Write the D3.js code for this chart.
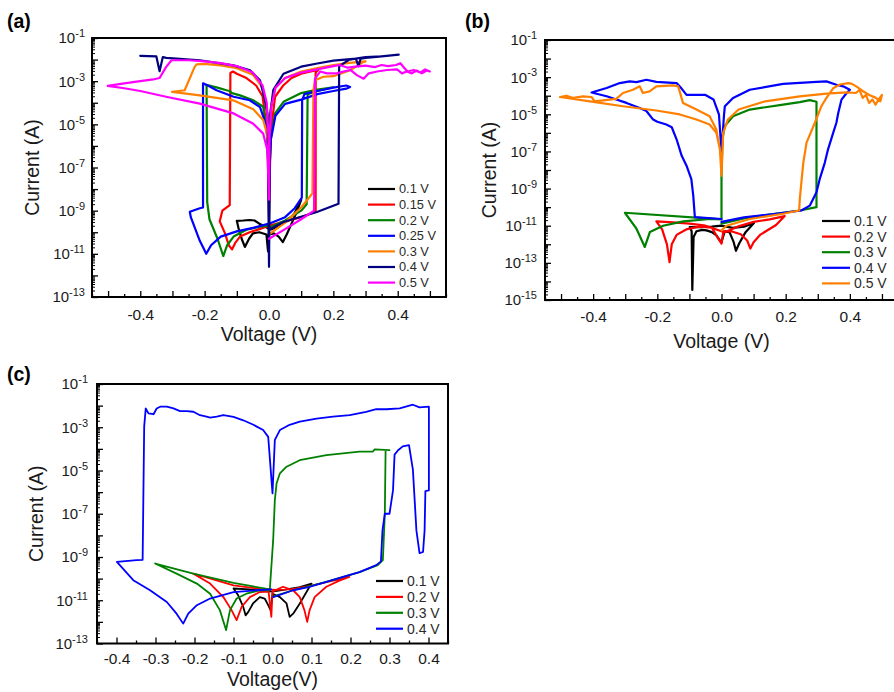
<!DOCTYPE html>
<html>
<head>
<meta charset="utf-8">
<script src="https://cdn.jsdelivr.net/npm/d3@7"></script>
<style>
  html, body { margin: 0; padding: 0; background: #ffffff; }
  svg { display: block; font-family: "Liberation Sans", Arial, Helvetica, sans-serif; }
</style>
</head>
<body>
<svg id="fig" width="894" height="692"></svg>
<script>
// ---------------------------------------------------------------
// I–V sweeps, [voltage (V), current (A)], in sweep order.
// ---------------------------------------------------------------

// Panel (a): sweep amplitudes
const legendA = ["0.1 V", "0.15 V", "0.2 V", "0.25 V", "0.3 V", "0.4 V", "0.5 V"];

const a_0p1V = [[0,7.9e-11],[0.015,8.9e-11],[0.03,6.3e-11],[0.043,3.5e-11],[0.055,7.9e-11],[0.07,2.5e-10],[0.085,7.9e-10],[0.1,3.2e-9],[0.08,7.9e-10],[0.06,3.5e-10],[0.03,2.0e-10],[0.01,1.4e-10],[0,1.3e-10],[-0.003,1.3e-11],[-0.008,7.9e-11],[-0.03,1.0e-10],[-0.05,8.9e-11],[-0.062,5.0e-11],[-0.075,2.1e-11],[-0.085,5.0e-11],[-0.095,1.6e-10],[-0.1,3.4e-10],[-0.08,3.5e-10],[-0.06,3.7e-10],[-0.045,3.5e-10],[-0.03,2.5e-10],[-0.01,1.8e-10],[0,1.4e-10]];

const a_0p15V = [[0,2.0e-10],[0.05,3.2e-10],[0.1,5.0e-10],[0.145,8.9e-10],[0.145,2.5e-3],[0.153,3.3e-3],[0.13,2.8e-3],[0.1,2.2e-3],[0.07,1.4e-3],[0.045,6.5e-4],[0.019,1.9e-4],[0.005,3.7e-6],[0,5.0e-10],[-0.005,3.7e-6],[-0.02,2.0e-4],[-0.04,6.3e-4],[-0.07,1.4e-3],[-0.1,2.2e-3],[-0.112,2.8e-3],[-0.12,2.4e-3],[-0.122,1.8e-9],[-0.145,1.0e-9],[-0.153,3.2e-10],[-0.137,9.1e-11],[-0.125,2.5e-11],[-0.115,1.6e-11],[-0.105,3.2e-11],[-0.09,6.3e-11],[-0.06,1.0e-10],[-0.03,1.4e-10],[0,2.0e-10]];

const a_0p2V = [[0,1.6e-10],[0.05,3.5e-10],[0.1,1.0e-9],[0.117,2.0e-9],[0.12,2.5e-4],[0.15,3.5e-4],[0.2,5.2e-4],[0.15,4.1e-4],[0.1,2.8e-4],[0.045,1.1e-4],[0.019,3.2e-5],[0.005,2.0e-6],[0,6.3e-9],[-0.005,2.5e-6],[-0.018,6.5e-5],[-0.049,1.3e-4],[-0.09,2.2e-4],[-0.115,2.8e-4],[-0.122,3.5e-4],[-0.132,3.8e-4],[-0.16,5.0e-4],[-0.18,6.0e-4],[-0.194,6.5e-4],[-0.192,2.5e-9],[-0.185,4.0e-10],[-0.16,5.0e-11],[-0.142,7.9e-12],[-0.13,2.5e-11],[-0.11,6.3e-11],[-0.07,1.3e-10],[-0.03,1.8e-10],[0,2.0e-10]];

const a_0p25V = [[0,2.5e-10],[0.05,5.0e-10],[0.08,1.3e-9],[0.102,4.0e-9],[0.103,1.3e-4],[0.11,2.5e-4],[0.15,3.5e-4],[0.2,5.0e-4],[0.24,6.3e-4],[0.252,5.4e-4],[0.24,4.5e-4],[0.2,3.5e-4],[0.15,2.5e-4],[0.1,1.4e-4],[0.05,8.9e-5],[0.02,2.5e-5],[0.006,2.0e-6],[0,3.2e-8],[-0.007,7.9e-6],[-0.028,6.3e-5],[-0.06,1.3e-4],[-0.11,1.9e-4],[-0.163,3.8e-4],[-0.19,6.3e-4],[-0.205,7.9e-4],[-0.205,1.4e-9],[-0.215,1.3e-9],[-0.246,8.9e-10],[-0.243,5.0e-10],[-0.215,4.0e-11],[-0.195,1.0e-11],[-0.18,2.5e-11],[-0.15,6.3e-11],[-0.1,1.1e-10],[-0.05,1.6e-10],[0,2.5e-10]];

const a_0p3V = [[0,7.9e-11],[0.05,2.8e-10],[0.1,1.4e-9],[0.135,6.3e-9],[0.138,3.8e-4],[0.143,1.1e-3],[0.169,1.6e-3],[0.2,1.7e-3],[0.252,3.2e-3],[0.294,7.8e-3],[0.3,8.3e-3],[0.25,7.1e-3],[0.2,5.6e-3],[0.15,4.0e-3],[0.1,2.8e-3],[0.05,1.4e-3],[0.02,5.0e-4],[0.006,6.3e-5],[0,3.2e-7],[-0.006,5.0e-5],[-0.02,5.0e-4],[-0.05,2.0e-3],[-0.1,4.0e-3],[-0.15,5.4e-3],[-0.2,6.3e-3],[-0.225,6.0e-3],[-0.231,4.6e-3],[-0.262,3.8e-4],[-0.301,3.2e-4],[-0.215,2.2e-4],[-0.111,1.3e-4],[-0.049,5.0e-5],[-0.018,1.6e-5],[-0.007,4.0e-6],[0,3.2e-7]];

const a_0p4V = [[0,1.3e-10],[0.045,3.0e-10],[0.097,5.1e-10],[0.149,8.7e-10],[0.216,2.1e-9],[0.218,5.0e-3],[0.25,1.0e-2],[0.3,1.3e-2],[0.35,1.4e-2],[0.403,1.7e-2],[0.35,1.4e-2],[0.3,1.2e-2],[0.285,1.1e-2],[0.278,5.0e-3],[0.27,1.1e-2],[0.2,8.9e-3],[0.15,6.6e-3],[0.1,4.7e-3],[0.045,2.2e-3],[0.0135,4.0e-4],[0.004,3.2e-5],[0,2.5e-12],[-0.004,2.5e-5],[-0.0125,1.3e-4],[-0.028,1.1e-3],[-0.059,3.2e-3],[-0.111,5.4e-3],[-0.215,9.3e-3],[-0.319,1.2e-2],[-0.33,1.3e-2],[-0.34,2.9e-3],[-0.35,1.4e-2],[-0.4,1.5e-2]];

const a_0p5V = [[0,5.0e-11],[0.05,1.4e-10],[0.1,4.0e-10],[0.14,1.0e-9],[0.143,1.3e-3],[0.159,2.8e-3],[0.18,2.3e-3],[0.211,2.3e-3],[0.232,2.8e-3],[0.253,3.3e-3],[0.273,1.9e-3],[0.294,1.3e-3],[0.31,2.3e-3],[0.336,2.8e-3],[0.367,3.3e-3],[0.398,3.5e-3],[0.413,2.3e-3],[0.428,2.8e-3],[0.444,2.3e-3],[0.459,3.1e-3],[0.475,2.3e-3],[0.49,3.1e-3],[0.5,2.8e-3],[0.485,3.5e-3],[0.47,2.5e-3],[0.45,3.3e-3],[0.43,2.8e-3],[0.408,6.8e-3],[0.395,5.6e-3],[0.37,5.0e-3],[0.35,5.6e-3],[0.33,4.5e-3],[0.3,5.2e-3],[0.27,4.7e-3],[0.245,4.2e-3],[0.22,5.6e-3],[0.2,5.0e-3],[0.15,3.5e-3],[0.1,2.5e-3],[0.05,1.4e-3],[0.02,5.0e-4],[0.007,6.3e-5],[0.002,3.2e-6],[0,3.2e-9],[-0.002,3.2e-6],[-0.007,1.0e-4],[-0.02,6.3e-4],[-0.05,2.5e-3],[-0.1,5.0e-3],[-0.15,6.8e-3],[-0.2,8.3e-3],[-0.25,9.3e-3],[-0.303,9.3e-3],[-0.32,4.5e-3],[-0.34,1.4e-3],[-0.36,1.2e-3],[-0.4,1.0e-3],[-0.45,7.9e-4],[-0.501,6.0e-4],[-0.45,4.7e-4],[-0.4,3.5e-4],[-0.32,1.9e-4],[-0.215,9.1e-5],[-0.11,3.2e-5],[-0.05,1.1e-5],[-0.018,3.7e-6],[-0.005,6.3e-7],[0,3.2e-9]];

// Panel (b): sweep amplitudes
const legendB = ["0.1 V", "0.2 V", "0.3 V", "0.4 V", "0.5 V"];

const b_0p1V = [[0,1.0e-11],[-0.03,8.9e-12],[-0.06,8.5e-12],[-0.099,8.5e-12],[-0.093,5.0e-12],[-0.091,3.5e-15],[-0.087,2.5e-12],[-0.078,5.0e-12],[-0.06,6.0e-12],[-0.047,5.6e-12],[-0.03,4.5e-12],[-0.016,3.0e-12],[-0.005,1.6e-12],[0,1.3e-12],[0.01,5.0e-12],[0.025,4.5e-12],[0.038,1.3e-12],[0.045,4.5e-13],[0.055,1.1e-12],[0.075,4.5e-12],[0.101,1.4e-11],[0.07,8.9e-12],[0.035,7.6e-12],[0,1.0e-11]];

const b_0p2V = [[0,5.0e-12],[-0.05,1.0e-11],[-0.1,1.3e-11],[-0.15,1.5e-11],[-0.203,1.7e-11],[-0.185,6.3e-12],[-0.17,1.0e-12],[-0.162,1.1e-13],[-0.155,1.0e-12],[-0.14,3.2e-12],[-0.11,6.3e-12],[-0.07,8.9e-12],[-0.03,7.9e-12],[-0.01,2.0e-12],[0,1.1e-12],[0.005,4.0e-12],[0.05,8.9e-12],[0.1,1.6e-11],[0.15,2.2e-11],[0.197,3.3e-11],[0.17,1.1e-11],[0.12,3.2e-12],[0.1,1.3e-12],[0.09,5.9e-13],[0.08,1.6e-12],[0.06,3.5e-12],[0.03,5.0e-12],[0,5.0e-12]];

const b_0p3V = [[0,2.2e-11],[-0.301,5.0e-11],[-0.265,6.9e-12],[-0.239,7.2e-13],[-0.223,4.6e-12],[-0.182,1.0e-11],[-0.119,1.7e-11],[-0.036,2.3e-11],[0,2.2e-11],[0,5.0e-9],[0.003,4.5e-7],[0.01,2.3e-6],[0.036,7.9e-6],[0.088,1.8e-5],[0.192,3.3e-5],[0.244,4.5e-5],[0.275,5.8e-5],[0.296,4.7e-5],[0.296,1.0e-10],[0.244,6.6e-11],[0.15,4.0e-11],[0.07,2.5e-11],[0,1.3e-11]];

const b_0p4V = [[0,2.3e-11],[-0.083,2.9e-11],[-0.088,4.2e-10],[-0.094,3.2e-9],[-0.109,1.7e-8],[-0.124,5.8e-8],[-0.14,4.5e-7],[-0.155,2.0e-6],[-0.172,2.8e-6],[-0.2,4.0e-6],[-0.213,5.2e-6],[-0.234,1.5e-5],[-0.255,2.2e-5],[-0.296,4.1e-5],[-0.358,9.3e-5],[-0.405,1.5e-4],[-0.358,2.6e-4],[-0.317,4.8e-4],[-0.286,5.9e-4],[-0.265,5.4e-4],[-0.234,7.2e-4],[-0.203,5.6e-4],[-0.14,4.8e-4],[-0.125,2.5e-4],[-0.109,1.1e-4],[-0.05,1.1e-4],[-0.025,6.3e-5],[-0.008,1.0e-5],[0,1.0e-7],[0.008,1.0e-5],[0.0104,2.7e-5],[0.036,7.6e-5],[0.088,2.1e-4],[0.192,4.3e-4],[0.296,5.5e-4],[0.327,5.9e-4],[0.358,3.9e-4],[0.379,3.2e-4],[0.4,2.1e-4],[0.39,1.4e-4],[0.374,6.2e-5],[0.364,1.2e-5],[0.358,3.5e-6],[0.348,1.0e-6],[0.332,1.3e-7],[0.322,2.5e-8],[0.306,3.2e-9],[0.296,6.3e-10],[0.275,1.2e-10],[0.249,6.6e-11],[0.15,4.0e-11],[0.07,2.8e-11],[0,1.6e-11]];

const b_0p5V = [[0,5.0e-9],[-0.005,1.3e-7],[-0.016,1.0e-6],[-0.037,2.8e-6],[-0.078,5.2e-6],[-0.13,9.8e-6],[-0.203,1.6e-5],[-0.307,2.7e-5],[-0.41,5.0e-5],[-0.503,8.5e-5],[-0.483,1.0e-4],[-0.462,7.6e-5],[-0.431,9.3e-5],[-0.405,8.5e-5],[-0.395,5.0e-5],[-0.328,6.8e-5],[-0.307,1.4e-4],[-0.276,2.1e-4],[-0.255,3.2e-4],[-0.245,1.4e-4],[-0.224,1.7e-4],[-0.203,3.2e-4],[-0.151,3.6e-4],[-0.135,3.2e-4],[-0.12,4.1e-5],[-0.078,1.8e-5],[-0.037,7.9e-6],[-0.016,1.5e-6],[-0.005,1.3e-7],[0,5.0e-9],[0.0052,1.0e-6],[0.0197,5.2e-6],[0.0533,1.8e-5],[0.136,5.0e-5],[0.244,9.3e-5],[0.327,1.3e-4],[0.39,1.5e-4],[0.419,1.4e-4],[0.43,2.1e-4],[0.44,7.6e-5],[0.45,1.1e-4],[0.46,4.1e-5],[0.47,6.3e-5],[0.48,3.3e-5],[0.49,6.3e-5],[0.5,1.1e-4],[0.495,5.0e-5],[0.48,7.9e-5],[0.46,1.1e-4],[0.44,1.8e-4],[0.42,3.2e-4],[0.405,4.5e-4],[0.395,4.8e-4],[0.369,4.0e-4],[0.348,2.5e-4],[0.327,7.6e-5],[0.311,2.7e-5],[0.291,3.5e-6],[0.265,3.0e-7],[0.255,2.5e-8],[0.249,2.2e-9],[0.244,2.8e-10],[0.242,6.6e-11],[0.192,4.4e-11],[0.088,2.3e-11],[0.0156,1.0e-11],[0,5.6e-12]];

// Panel (c): sweep amplitudes
const legendC = ["0.1 V", "0.2 V", "0.3 V", "0.4 V"];

const c_0p1V = [[0,2.0e-11],[0.019,1.4e-11],[0.036,7.1e-12],[0.044,1.7e-12],[0.053,2.4e-12],[0.07,7.1e-12],[0.095,4.2e-11],[0.1,5.9e-11],[0.07,4.0e-11],[0.036,3.2e-11],[0,2.5e-11],[-0.03,2.8e-11],[-0.06,3.2e-11],[-0.1,3.5e-11],[-0.088,1.7e-11],[-0.075,4.9e-12],[-0.069,2.0e-12],[-0.062,2.9e-12],[-0.05,7.1e-12],[-0.0325,1.4e-11],[-0.02,1.2e-11],[-0.011,5.9e-12],[-0.005,3.5e-12],[0,2.0e-11]];

const c_0p2V = [[0,2.5e-11],[0.027,4.2e-11],[0.053,2.9e-11],[0.07,1.4e-11],[0.082,3.4e-12],[0.089,1.0e-12],[0.095,3.4e-12],[0.108,1.4e-11],[0.138,4.2e-11],[0.17,7.9e-11],[0.197,1.2e-10],[0.15,7.6e-11],[0.1,4.7e-11],[0.05,3.3e-11],[0.01,3.0e-11],[-0.03,3.3e-11],[-0.1,4.9e-11],[-0.15,8.9e-11],[-0.203,1.7e-10],[-0.16,5.9e-11],[-0.126,1.4e-11],[-0.105,3.5e-12],[-0.092,1.2e-12],[-0.079,5.0e-12],[-0.058,1.4e-11],[-0.0325,2.4e-11],[-0.01,2.5e-11],[-0.003,1.7e-12],[0,2.5e-11]];

const c_0p3V = [[-0.007,3.2e-11],[-0.1,6.3e-11],[-0.203,1.7e-10],[-0.301,5.0e-10],[-0.246,1.7e-10],[-0.194,5.9e-11],[-0.16,2.0e-11],[-0.135,3.5e-12],[-0.119,4.2e-13],[-0.109,3.5e-12],[-0.092,1.2e-11],[-0.067,2.0e-11],[-0.0325,2.9e-11],[-0.007,2.9e-11],[0.0017,6.0e-9],[0.006,4.3e-7],[0.0104,2.5e-6],[0.019,7.4e-6],[0.036,1.5e-5],[0.0697,3.0e-5],[0.138,5.1e-5],[0.223,7.4e-5],[0.257,7.4e-5],[0.262,9.5e-5],[0.3,8.7e-5],[0.29,8.7e-5],[0.288,1.0e-7],[0.283,7.1e-10],[0.27,4.2e-10],[0.223,2.0e-10],[0.138,7.1e-11],[0.053,2.9e-11],[0.0017,1.5e-11]];

const c_0p4V = [[0.002,1.4e-11],[0.053,2.9e-11],[0.095,4.2e-11],[0.138,7.1e-11],[0.181,1.2e-10],[0.223,2.0e-10],[0.266,4.2e-10],[0.278,6.3e-10],[0.282,1.7e-8],[0.288,1.0e-7],[0.3,1.0e-7],[0.309,1.2e-6],[0.313,5.4e-5],[0.322,8.7e-5],[0.334,1.3e-4],[0.35,1.5e-4],[0.36,1.1e-5],[0.369,1.7e-8],[0.377,1.5e-9],[0.386,1.7e-9],[0.39,1.7e-8],[0.392,1.1e-6],[0.401,1.2e-6],[0.401,8.9e-3],[0.377,8.3e-3],[0.36,1.1e-2],[0.326,7.4e-3],[0.292,6.8e-3],[0.266,6.8e-3],[0.24,5.2e-3],[0.198,3.6e-3],[0.155,3.1e-3],[0.113,2.5e-3],[0.07,1.8e-3],[0.044,1.3e-3],[0.019,7.4e-4],[0.006,2.6e-4],[0,8.7e-7],[-0.011,3.6e-4],[-0.024,7.4e-4],[-0.049,1.3e-3],[-0.075,2.1e-3],[-0.1,3.0e-3],[-0.126,3.6e-3],[-0.143,3.1e-3],[-0.16,2.8e-3],[-0.169,3.1e-3],[-0.186,3.6e-3],[-0.203,5.2e-3],[-0.22,5.6e-3],[-0.237,5.6e-3],[-0.254,7.4e-3],[-0.271,8.9e-3],[-0.288,8.9e-3],[-0.297,7.4e-3],[-0.305,4.0e-3],[-0.318,4.4e-3],[-0.325,7.4e-3],[-0.329,1.1e-3],[-0.333,7.4e-10],[-0.348,7.1e-10],[-0.399,5.9e-10],[-0.357,8.5e-11],[-0.314,2.9e-11],[-0.271,8.3e-12],[-0.246,2.4e-12],[-0.229,8.3e-13],[-0.216,2.4e-12],[-0.194,5.9e-12],[-0.16,1.2e-11],[-0.1,2.4e-11],[-0.041,2.9e-11],[-0.003,3.2e-11]];

// Axis tick labels
const xLabelsAB = [-0.4, -0.2, 0.0, 0.2, 0.4];
const xLabelsC = [-0.4, -0.3, -0.2, -0.1, 0.0, 0.1, 0.2, 0.3, 0.4];
const yLabelsAC = [1e-1, 1e-3, 1e-5, 1e-7, 1e-9, 1e-11, 1e-13];
const yLabelsB = [1e-1, 1e-3, 1e-5, 1e-7, 1e-9, 1e-11, 1e-13, 1e-15];

// Line colours for each sweep, in legend order
const coloursA = ["#000000", "#ff0000", "#008000", "#0000ff", "#ff8000", "#000080", "#ff00ff"];
const coloursB = ["#000000", "#ff0000", "#008000", "#0000ff", "#ff8000"];
const coloursC = ["#000000", "#ff0000", "#008000", "#0000ff"];

// ---------------------------------------------------------------
const svg = d3.select("#fig");
const INK = "#1a1a1a";

function drawPanel(cfg) {
  const g = svg.append("g");
  const x = d3.scaleLinear().domain(cfg.xDomain).range([cfg.left, cfg.right]);
  const y = d3.scaleLog().domain(cfg.yDomain).range([cfg.bottom, cfg.top]);

  // sweep curves
  const line = d3.line().x(d => x(d[0])).y(d => y(d[1]));
  g.append("g")
    .selectAll("path")
    .data(cfg.series)
    .join("path")
    .attr("d", line)
    .attr("fill", "none")
    .attr("stroke", (d, i) => cfg.colours[i])
    .attr("stroke-width", cfg.lineWidth)
    .attr("stroke-linejoin", "round")
    .attr("stroke-linecap", "round");

  // bottom axis: major ticks every 0.1 V, minor every 0.05 V, ticks pointing inward
  const lo = Math.ceil(cfg.xDomain[0] * 20 - 1e-9), hi = Math.floor(cfg.xDomain[1] * 20 + 1e-9);
  const steps = d3.range(lo, hi + 1);
  const xMajor = steps.filter(k => k % 2 === 0).map(k => k / 20);
  const xMinor = steps.filter(k => k % 2 !== 0).map(k => k / 20);
  const isLabel = v => cfg.xLabels.some(l => Math.abs(l - v) < 1e-9);

  const xAxis = g.append("g")
    .attr("transform", `translate(0,${cfg.bottom})`)
    .call(d3.axisBottom(x).tickValues(xMajor).tickSize(-6).tickPadding(cfg.xPad)
      .tickFormat(v => isLabel(v) ? (Math.abs(v) < 1e-9 ? "0.0" : v.toFixed(1)) : ""));
  xAxis.select(".domain").remove();
  xAxis.selectAll("line").attr("stroke", "#000").attr("stroke-width", 1.3);
  xAxis.selectAll("text").attr("font-size", cfg.tickFont).attr("fill", INK)
    .attr("font-family", "Liberation Sans, Arial, sans-serif");

  const xAxisMinor = g.append("g")
    .attr("transform", `translate(0,${cfg.bottom})`)
    .call(d3.axisBottom(x).tickValues(xMinor).tickSize(-3).tickFormat(""));
  xAxisMinor.select(".domain").remove();
  xAxisMinor.selectAll("line").attr("stroke", "#000").attr("stroke-width", 1.3);

  // left axis: decade ticks plus log minor ticks
  const eLo = Math.round(Math.log10(cfg.yDomain[0])), eHi = Math.round(Math.log10(cfg.yDomain[1]));
  const decades = d3.range(eLo, eHi + 1).map(e => Math.pow(10, e));
  const minors = [];
  d3.range(eLo, eHi).forEach(e => { for (let k = 2; k <= 9; k++) minors.push(k * Math.pow(10, e)); });

  const yAxis = g.append("g")
    .attr("transform", `translate(${cfg.left},0)`)
    .call(d3.axisLeft(y).tickValues(decades).tickSize(-6).tickFormat(""));
  yAxis.select(".domain").remove();
  yAxis.selectAll("line").attr("stroke", "#000").attr("stroke-width", 1.3);
  const yAxisMinor = g.append("g")
    .attr("transform", `translate(${cfg.left},0)`)
    .call(d3.axisLeft(y).tickValues(minors).tickSize(-3).tickFormat(""));
  yAxisMinor.select(".domain").remove();
  yAxisMinor.selectAll("line").attr("stroke", "#000").attr("stroke-width", 1);

  // decade labels written as 10 with a superscript exponent
  const yText = g.append("g").selectAll("text")
    .data(cfg.yLabels)
    .join("text")
    .attr("x", cfg.left - cfg.yPad)
    .attr("y", d => y(d))
    .attr("dy", "0.36em")
    .attr("text-anchor", "end")
    .attr("fill", INK)
    .attr("font-size", 15);
  yText.append("tspan").text("10");
  yText.append("tspan")
    .attr("font-size", 11)
    .attr("dy", "-0.55em")
    .text(d => String(Math.round(Math.log10(d))));

  // plot frame
  g.append("rect")
    .attr("x", cfg.left).attr("y", cfg.top)
    .attr("width", cfg.right - cfg.left).attr("height", cfg.bottom - cfg.top)
    .attr("fill", "none").attr("stroke", "#000").attr("stroke-width", 2);

  // axis titles
  g.append("text")
    .attr("x", (cfg.left + Math.min(cfg.right, 894)) / 2 + cfg.xTitleShift)
    .attr("y", cfg.xTitleY)
    .attr("text-anchor", "middle")
    .attr("font-size", 19.5)
    .attr("fill", INK)
    .text(cfg.xTitle);
  g.append("text")
    .attr("transform", `translate(${cfg.yTitleX},${(cfg.top + cfg.bottom) / 2}) rotate(-90)`)
    .attr("dy", "0.35em")
    .attr("text-anchor", "middle")
    .attr("font-size", 19.5)
    .attr("fill", INK)
    .text("Current (A)");

  // panel tag
  g.append("text")
    .attr("x", cfg.tagX).attr("y", cfg.tagY)
    .attr("font-size", 19.5).attr("font-weight", "bold").attr("fill", "#000")
    .text(cfg.tag);

  // legend
  const leg = g.append("g")
    .selectAll("g")
    .data(cfg.legend)
    .join("g")
    .attr("transform", (d, i) => `translate(${cfg.legX},${cfg.legY + i * cfg.legStep})`);
  leg.append("line")
    .attr("x1", 0).attr("x2", cfg.legLen).attr("y1", 0).attr("y2", 0)
    .attr("stroke", (d, i) => cfg.colours[i]).attr("stroke-width", 2.2);
  leg.append("text")
    .attr("x", cfg.legLen + 4).attr("y", 0).attr("dy", "0.35em")
    .attr("font-size", cfg.legFont).attr("fill", "#2a2a2a")
    .text(d => d);
}

drawPanel({
  tag: "(a)", tagX: 7, tagY: 28,
  left: 92, right: 446, top: 38, bottom: 297,
  xDomain: [-0.55, 0.55], yDomain: [1e-13, 1e-1],
  xLabels: xLabelsAB, yLabels: yLabelsAC,
  series: [a_0p1V, a_0p15V, a_0p2V, a_0p25V, a_0p3V, a_0p4V, a_0p5V],
  colours: coloursA, legend: legendA,
  lineWidth: 2.2, tickFont: 15.5, xPad: 12, yPad: 7,
  xTitle: "Voltage (V)", xTitleY: 341, xTitleShift: 0, yTitleX: 32,
  legX: 368, legY: 189, legStep: 15.6, legLen: 27, legFont: 12.8
});

drawPanel({
  tag: "(b)", tagX: 465, tagY: 28,
  left: 545, right: 898, top: 40, bottom: 300,
  xDomain: [-0.55, 0.55], yDomain: [1e-15, 1e-1],
  xLabels: xLabelsAB, yLabels: yLabelsB,
  series: [b_0p1V, b_0p2V, b_0p3V, b_0p4V, b_0p5V],
  colours: coloursB, legend: legendB,
  lineWidth: 2.2, tickFont: 15.5, xPad: 11, yPad: 8,
  xTitle: "Voltage (V)", xTitleY: 348, xTitleShift: 2, yTitleX: 489,
  legX: 822, legY: 221, legStep: 15.6, legLen: 28, legFont: 14
});

drawPanel({
  tag: "(c)", tagX: 7, tagY: 381,
  left: 97, right: 448, top: 384, bottom: 643.5,
  xDomain: [-0.45, 0.45], yDomain: [1e-13, 1e-1],
  xLabels: xLabelsC, yLabels: yLabelsAC,
  series: [c_0p1V, c_0p2V, c_0p3V, c_0p4V],
  colours: coloursC, legend: legendC,
  lineWidth: 1.8, tickFont: 15.5, xPad: 9, yPad: 9,
  xTitle: "Voltage(V)", xTitleY: 686, xTitleShift: 0, yTitleX: 36,
  legX: 376, legY: 581, legStep: 15.9, legLen: 27, legFont: 14
});
</script>
</body>
</html>
